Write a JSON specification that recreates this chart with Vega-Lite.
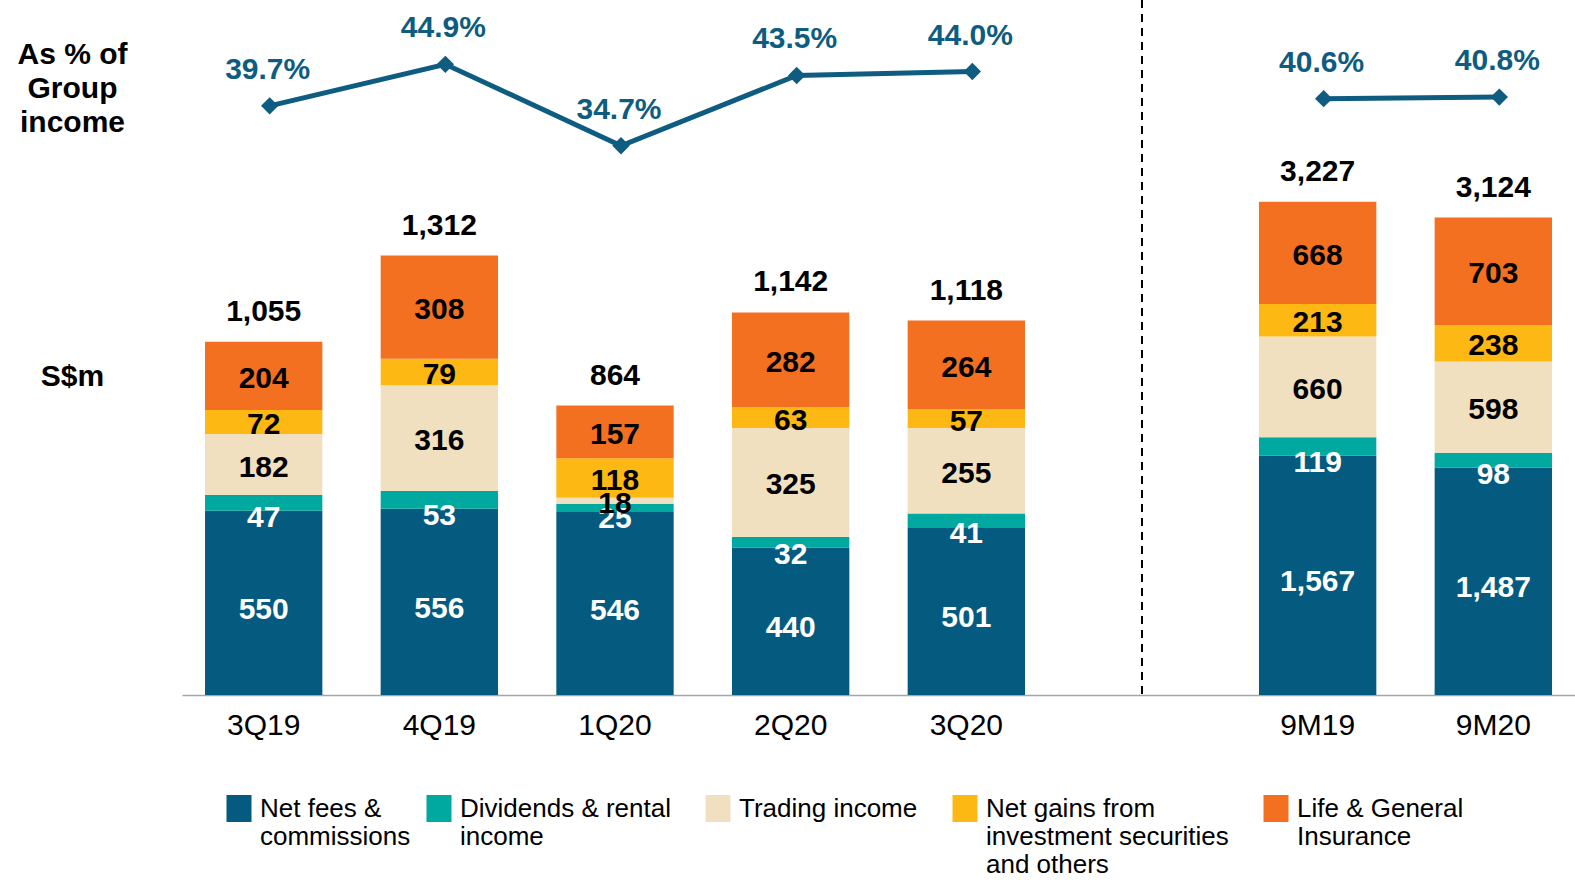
{
  "$schema": "https://vega.github.io/schema/vega-lite/v6.json",
  "width": 1393,
  "height": 695,
  "autosize": {"type": "none"},
  "padding": {"left": 182, "top": 0, "right": 0, "bottom": 188},
  "background": "white",
  "config": {"view": {"stroke": null}, "font": "Liberation Sans"},
  "datasets": {
    "bars": [
      {"period": "3Q19", "group": "Q", "series": "Net fees & commissions", "value": 550},
      {"period": "3Q19", "group": "Q", "series": "Dividends & rental income", "value": 47},
      {"period": "3Q19", "group": "Q", "series": "Trading income", "value": 182},
      {"period": "3Q19", "group": "Q", "series": "Net gains from investment securities and others", "value": 72},
      {"period": "3Q19", "group": "Q", "series": "Life & General Insurance", "value": 204},
      {"period": "4Q19", "group": "Q", "series": "Net fees & commissions", "value": 556},
      {"period": "4Q19", "group": "Q", "series": "Dividends & rental income", "value": 53},
      {"period": "4Q19", "group": "Q", "series": "Trading income", "value": 316},
      {"period": "4Q19", "group": "Q", "series": "Net gains from investment securities and others", "value": 79},
      {"period": "4Q19", "group": "Q", "series": "Life & General Insurance", "value": 308},
      {"period": "1Q20", "group": "Q", "series": "Net fees & commissions", "value": 546},
      {"period": "1Q20", "group": "Q", "series": "Dividends & rental income", "value": 25},
      {"period": "1Q20", "group": "Q", "series": "Trading income", "value": 18},
      {"period": "1Q20", "group": "Q", "series": "Net gains from investment securities and others", "value": 118},
      {"period": "1Q20", "group": "Q", "series": "Life & General Insurance", "value": 157},
      {"period": "2Q20", "group": "Q", "series": "Net fees & commissions", "value": 440},
      {"period": "2Q20", "group": "Q", "series": "Dividends & rental income", "value": 32},
      {"period": "2Q20", "group": "Q", "series": "Trading income", "value": 325},
      {"period": "2Q20", "group": "Q", "series": "Net gains from investment securities and others", "value": 63},
      {"period": "2Q20", "group": "Q", "series": "Life & General Insurance", "value": 282},
      {"period": "3Q20", "group": "Q", "series": "Net fees & commissions", "value": 501},
      {"period": "3Q20", "group": "Q", "series": "Dividends & rental income", "value": 41},
      {"period": "3Q20", "group": "Q", "series": "Trading income", "value": 255},
      {"period": "3Q20", "group": "Q", "series": "Net gains from investment securities and others", "value": 57},
      {"period": "3Q20", "group": "Q", "series": "Life & General Insurance", "value": 264},
      {"period": "9M19", "group": "9M", "series": "Net fees & commissions", "value": 1567},
      {"period": "9M19", "group": "9M", "series": "Dividends & rental income", "value": 119},
      {"period": "9M19", "group": "9M", "series": "Trading income", "value": 660},
      {"period": "9M19", "group": "9M", "series": "Net gains from investment securities and others", "value": 213},
      {"period": "9M19", "group": "9M", "series": "Life & General Insurance", "value": 668},
      {"period": "9M20", "group": "9M", "series": "Net fees & commissions", "value": 1487},
      {"period": "9M20", "group": "9M", "series": "Dividends & rental income", "value": 98},
      {"period": "9M20", "group": "9M", "series": "Trading income", "value": 598},
      {"period": "9M20", "group": "9M", "series": "Net gains from investment securities and others", "value": 238},
      {"period": "9M20", "group": "9M", "series": "Life & General Insurance", "value": 703}
    ],
    "pct": [
      {"period": "3Q19", "group": "Q", "pct": 0.397},
      {"period": "4Q19", "group": "Q", "pct": 0.449},
      {"period": "1Q20", "group": "Q", "pct": 0.347},
      {"period": "2Q20", "group": "Q", "pct": 0.435},
      {"period": "3Q20", "group": "Q", "pct": 0.440},
      {"period": "9M19", "group": "9M", "pct": 0.406},
      {"period": "9M20", "group": "9M", "pct": 0.408}
    ],
    "sep": [{"period": " "}]
  },
  "encoding": {
    "x": {
      "field": "period",
      "type": "nominal",
      "sort": null,
      "scale": {"domain": ["3Q19", "4Q19", "1Q20", "2Q20", "3Q20", " ", "9M19", "9M20"], "paddingInner": 0.332, "paddingOuter": 0.131},
      "axis": {"title": null, "domainColor": "#a6a6a6", "domainWidth": 1.5, "ticks": false, "tickSize": 0, "labelFontSize": 30, "labelColor": "black", "labelPadding": 15, "labelAngle": 0, "labelFont": "Liberation Sans", "grid": false}
    }
  },
  "layer": [
    {
      "data": {"name": "bars"},
      "transform": [
        {"filter": "datum.group == 'Q'"},
        {"calculate": "indexof(['Net fees & commissions','Dividends & rental income','Trading income','Net gains from investment securities and others','Life & General Insurance'], datum.series)", "as": "ord"},
        {"stack": "value", "groupby": ["period"], "sort": [{"field": "ord", "order": "ascending"}], "as": ["y0", "y1"]}
      ],
      "encoding": {
        "y": {
          "field": "y1",
          "type": "quantitative",
          "scale": {"domain": [0, 2075], "nice": false, "zero": true},
          "axis": {"orient": "left", "domain": false, "ticks": false, "labels": false, "grid": false, "title": "S$m", "titleAngle": 0, "titleX": -110, "titleY": 385, "titleAlign": "center", "titleBaseline": "alphabetic", "titleFontSize": 30, "titleFont": "Liberation Sans", "titleFontWeight": "bold", "titleColor": "black"}
        }
      },
      "layer": [
        {
          "mark": {"type": "bar"},
          "encoding": {
            "y2": {"field": "y0"},
            "color": {
              "field": "series",
              "type": "nominal",
              "scale": {
                "domain": ["Net fees & commissions", "Dividends & rental income", "Trading income", "Net gains from investment securities and others", "Life & General Insurance"],
                "range": ["#045B7F", "#00A99F", "#F0E0C0", "#FDB813", "#F37021"]
              },
              "legend": {
                "title": null, "orient": "none", "legendX": 44, "legendY": 804, "direction": "horizontal",
                "symbolType": "M-1,-1.76H1V0.4H-1Z", "symbolSize": 625, "symbolStrokeWidth": 0, "symbolOpacity": 1,
                "labelFontSize": 26, "labelFont": "Liberation Sans", "labelColor": "black", "labelLimit": 500,
                "labelOffset": 8, "columnPadding": 15, "labelBaseline": "alphabetic", "labelLineHeight": 32, "padding": 0,
                "labelExpr": "datum.label == 'Net fees & commissions' ? ['Net fees &','commissions',''] : datum.label == 'Dividends & rental income' ? ['Dividends & rental\u2800','income',''] : datum.label == 'Trading income' ? ['Trading income\u2800','',''] : datum.label == 'Net gains from investment securities and others' ? ['Net gains from','investment securities\u2800','and others'] : datum.label == 'Life & General Insurance' ? ['Life & General','Insurance',''] : datum.label"
              }
            }
          }
        },
        {
          "transform": [
            {"filter": "datum.ord <= 1"},
            {"calculate": "datum.ord == 1 ? datum.y0 : (datum.y0 + datum.y1) / 2", "as": "y1"}
          ],
          "mark": {"type": "text", "fontSize": 30, "fontWeight": "bold", "baseline": "middle", "dy": 7, "color": "white"},
          "encoding": {"text": {"field": "value", "type": "quantitative", "format": ","}}
        },
        {
          "transform": [
            {"filter": "datum.ord > 1"},
            {"calculate": "(datum.y0 + datum.y1) / 2", "as": "y1"}
          ],
          "mark": {"type": "text", "fontSize": 30, "fontWeight": "bold", "baseline": "middle", "dy": 3, "color": "black"},
          "encoding": {"text": {"field": "value", "type": "quantitative", "format": ","}}
        },
        {
          "transform": [{"aggregate": [{"op": "sum", "field": "value", "as": "y1"}], "groupby": ["period"]}],
          "mark": {"type": "text", "fontSize": 30, "fontWeight": "bold", "baseline": "middle", "dy": -30, "color": "black"},
          "encoding": {"text": {"field": "y1", "type": "quantitative", "format": ","}}
        }
      ]
    },
    {
      "data": {"name": "bars"},
      "transform": [
        {"filter": "datum.group == '9M'"},
        {"calculate": "indexof(['Net fees & commissions','Dividends & rental income','Trading income','Net gains from investment securities and others','Life & General Insurance'], datum.series)", "as": "ord"},
        {"stack": "value", "groupby": ["period"], "sort": [{"field": "ord", "order": "ascending"}], "as": ["y0", "y1"]}
      ],
      "encoding": {
        "y": {
          "field": "y1",
          "type": "quantitative",
          "scale": {"domain": [0, 4548], "nice": false, "zero": true},
          "axis": null
        }
      },
      "layer": [
        {
          "mark": {"type": "bar"},
          "encoding": {
            "y2": {"field": "y0"},
            "color": {
              "field": "series",
              "type": "nominal",
              "scale": {
                "domain": ["Net fees & commissions", "Dividends & rental income", "Trading income", "Net gains from investment securities and others", "Life & General Insurance"],
                "range": ["#045B7F", "#00A99F", "#F0E0C0", "#FDB813", "#F37021"]
              }
            }
          }
        },
        {
          "transform": [
            {"filter": "datum.ord <= 1"},
            {"calculate": "datum.ord == 1 ? datum.y0 : (datum.y0 + datum.y1) / 2", "as": "y1"}
          ],
          "mark": {"type": "text", "fontSize": 30, "fontWeight": "bold", "baseline": "middle", "dy": 7, "color": "white"},
          "encoding": {"text": {"field": "value", "type": "quantitative", "format": ","}}
        },
        {
          "transform": [
            {"filter": "datum.ord > 1"},
            {"calculate": "(datum.y0 + datum.y1) / 2", "as": "y1"}
          ],
          "mark": {"type": "text", "fontSize": 30, "fontWeight": "bold", "baseline": "middle", "dy": 3, "color": "black"},
          "encoding": {"text": {"field": "value", "type": "quantitative", "format": ","}}
        },
        {
          "transform": [{"aggregate": [{"op": "sum", "field": "value", "as": "y1"}], "groupby": ["period"]}],
          "mark": {"type": "text", "fontSize": 30, "fontWeight": "bold", "baseline": "middle", "dy": -30, "color": "black"},
          "encoding": {"text": {"field": "y1", "type": "quantitative", "format": ","}}
        }
      ]
    },
    {
      "data": {"name": "pct"},
      "encoding": {
        "y": {
          "field": "pct",
          "type": "quantitative",
          "scale": {"domain": [-0.3413, 0.5296], "nice": false, "zero": false},
          "axis": {"orient": "left", "domain": false, "ticks": false, "labels": false, "grid": false, "title": ["As % of", "Group", "income"], "titleAngle": 0, "titleX": -110, "titleY": 63, "titleAlign": "center", "titleBaseline": "alphabetic", "titleLineHeight": 34, "titleFontSize": 30, "titleFont": "Liberation Sans", "titleFontWeight": "bold", "titleColor": "black"}
        }
      },
      "layer": [
        {
          "mark": {"type": "line", "color": "#0E5C80", "strokeWidth": 5, "xOffset": 6},
          "encoding": {"detail": {"field": "group", "type": "nominal"}}
        },
        {
          "mark": {"type": "point", "shape": "diamond", "filled": true, "size": 300, "color": "#0E5C80", "opacity": 1, "xOffset": 6}
        },
        {
          "mark": {"type": "text", "fontSize": 30, "fontWeight": "bold", "baseline": "middle", "dy": -36, "xOffset": 4, "color": "#0E5C80"},
          "encoding": {"text": {"field": "pct", "type": "quantitative", "format": ".1%"}}
        }
      ]
    },
    {
      "data": {"name": "sep"},
      "mark": {"type": "rule", "strokeDash": [8, 6], "strokeWidth": 2, "color": "black"},
      "encoding": {}
    }
  ],
  "resolve": {"scale": {"y": "independent"}, "axis": {"y": "independent"}}
}
